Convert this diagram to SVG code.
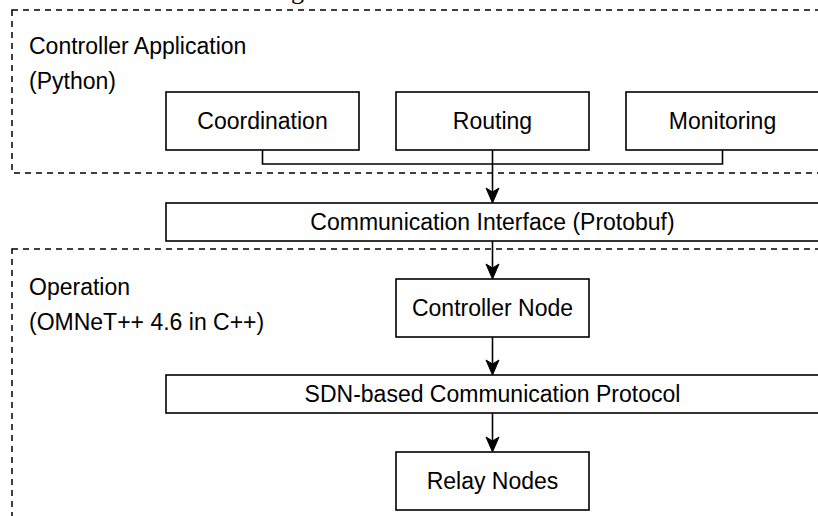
<svg xmlns="http://www.w3.org/2000/svg" width="818" height="516" viewBox="0 0 818 516">
  <style>
    .frame { fill: none; stroke: #000; stroke-width: 1.5; stroke-dasharray: 6 5; }
    .box { fill: #fff; stroke: #000; stroke-width: 1.6; }
    .wire { fill: none; stroke: #000; stroke-width: 1.6; }
    .head { fill: #000; stroke: #000; stroke-width: 1; stroke-linejoin: miter; }
    text { font-family: "Liberation Sans", Arial, Helvetica, sans-serif; font-size: 23px; fill: #000; }
    .c { text-anchor: middle; }
  </style>
  <defs>
    <!-- classic arrow head, tip at origin pointing down -->
    <path id="arrow" class="head" d="M0,0 L-6.5,-15 L0,-11 L6.5,-15 Z"/>
  </defs>
  <rect width="818" height="516" fill="#fff"/>

  <!-- title fragment running off the top edge -->
  <text x="291" y="-1" style="font-family: 'Liberation Serif', 'Times New Roman', serif; font-size: 26px;">g</text>

  <!-- layer frames -->
  <g id="layer-controller-app">
    <rect class="frame" x="12" y="10" width="830" height="163"/>
    <text x="29" y="54">Controller Application</text>
    <text x="29" y="89">(Python)</text>
  </g>
  <g id="layer-operation">
    <rect class="frame" x="12" y="249" width="830" height="300"/>
    <text x="29" y="295">Operation</text>
    <text x="29" y="330">(OMNeT++ 4.6 in C++)</text>
  </g>

  <!-- connectors -->
  <g id="connectors">
    <path class="wire" d="M262.5,150 V164 H722.5 V150"/>
    <path class="wire" d="M492.5,150 V192"/>
    <use href="#arrow" x="492.5" y="203"/>
    <path class="wire" d="M492.5,241 V268"/>
    <use href="#arrow" x="492.5" y="279"/>
    <path class="wire" d="M492.5,337 V364"/>
    <use href="#arrow" x="492.5" y="375"/>
    <path class="wire" d="M492.5,413 V441"/>
    <use href="#arrow" x="492.5" y="452"/>
  </g>

  <!-- nodes -->
  <g id="coordination">
    <rect class="box" x="166" y="92" width="193" height="58"/>
    <text class="c" x="262.5" y="129">Coordination</text>
  </g>
  <g id="routing">
    <rect class="box" x="396" y="92" width="193" height="58"/>
    <text class="c" x="492.5" y="129">Routing</text>
  </g>
  <g id="monitoring">
    <rect class="box" x="626" y="92" width="193" height="58"/>
    <text class="c" x="722.5" y="129">Monitoring</text>
  </g>
  <g id="communication-interface">
    <rect class="box" x="166" y="203" width="670" height="38"/>
    <text class="c" x="492.5" y="230">Communication Interface (Protobuf)</text>
  </g>
  <g id="controller-node">
    <rect class="box" x="396" y="279" width="193" height="58"/>
    <text class="c" x="492.5" y="316">Controller Node</text>
  </g>
  <g id="sdn-protocol">
    <rect class="box" x="166" y="375" width="670" height="38"/>
    <text class="c" x="492.5" y="402">SDN-based Communication Protocol</text>
  </g>
  <g id="relay-nodes">
    <rect class="box" x="396" y="452" width="193" height="58"/>
    <text class="c" x="492.5" y="489">Relay Nodes</text>
  </g>
</svg>
